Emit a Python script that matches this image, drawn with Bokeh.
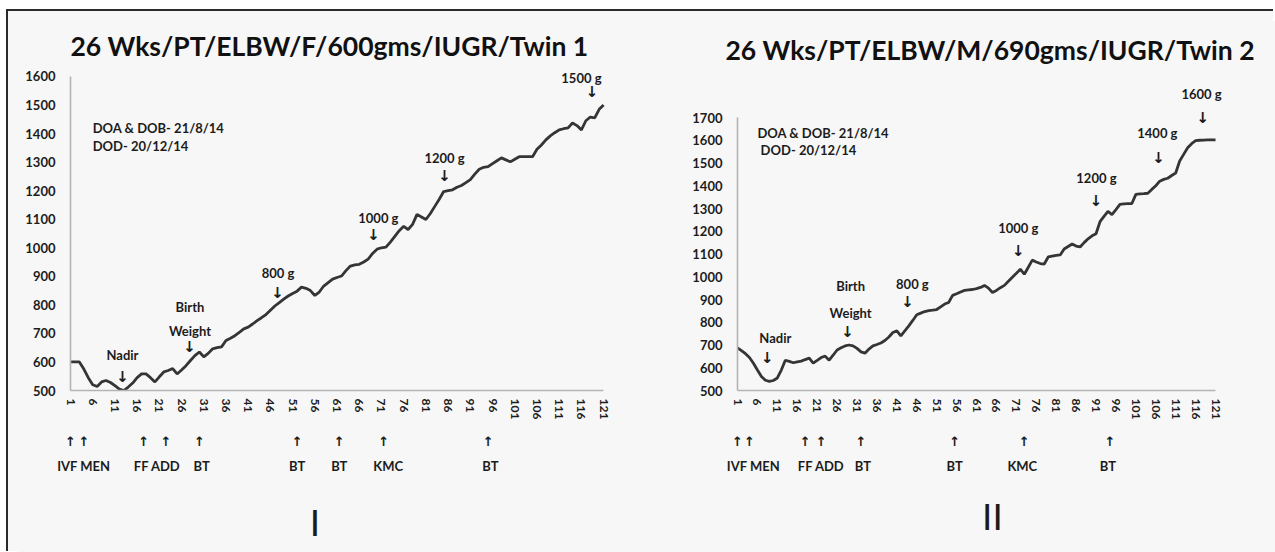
from bokeh.plotting import figure
from bokeh.models import Label, FixedTicker, Range1d, LinearAxis
from bokeh.layouts import row
from bokeh.embed import file_html
from bokeh.resources import INLINE

# ---------------- data ----------------
days = list(range(1, 122))

twin1_weights = [
    600, 600, 600, 575, 545, 520, 514, 530, 535, 528,
    517, 505, 500, 512, 526, 545, 558, 558, 545, 530,
    548, 565, 570, 577, 558, 572, 587, 605, 622, 635,
    618, 630, 646, 650, 653, 675, 683, 692, 704, 716,
    722, 733, 745, 755, 766, 781, 796, 808, 820, 831,
    840, 848, 862, 858, 850, 833, 845, 866, 878, 890,
    896, 901, 920, 936, 940, 942, 950, 960, 980, 995,
    1000, 1002, 1020, 1040, 1060, 1075, 1064, 1082, 1117, 1108,
    1099, 1120, 1145, 1170, 1197, 1200, 1203, 1212, 1218, 1228,
    1239, 1258, 1275, 1282, 1284, 1295, 1305, 1315, 1308, 1301,
    1310, 1319, 1319, 1319, 1319, 1345, 1360, 1378, 1392, 1403,
    1413, 1417, 1420, 1437, 1428, 1413, 1445, 1458, 1455, 1485, 1500,
]

twin2_weights = [
    687, 675, 662, 645, 620, 590, 562, 545, 540, 544,
    555, 590, 633, 628, 622, 626, 629, 636, 642, 620,
    632, 645, 651, 633, 655, 678, 688, 696, 700, 696,
    685, 670, 664, 682, 696, 702, 709, 720, 735, 755,
    762, 740, 762, 784, 808, 833, 840, 847, 851, 853,
    856, 868, 880, 887, 918, 925, 933, 940, 942, 944,
    948, 953, 962, 950, 931, 940, 952, 962, 980, 998,
    1015, 1033, 1011, 1042, 1073, 1065, 1058, 1056, 1087, 1091,
    1094, 1096, 1122, 1133, 1144, 1135, 1131, 1150, 1167, 1180,
    1189, 1242, 1265, 1287, 1273, 1295, 1318, 1320, 1321, 1322,
    1362, 1364, 1365, 1367, 1384, 1400, 1420, 1428, 1433, 1445,
    1456, 1509, 1538, 1567, 1585, 1598, 1600, 1601, 1602, 1602, 1602,
]

x_tick_days = [1, 6, 11, 16, 21, 26, 31, 36, 41, 46, 51, 56, 61, 66, 71,
               76, 81, 86, 91, 96, 101, 106, 111, 116, 121]
twin1_y_ticks = [500, 600, 700, 800, 900, 1000, 1100, 1200, 1300, 1400, 1500, 1600]
twin2_y_ticks = [500, 600, 700, 800, 900, 1000, 1100, 1200, 1300, 1400, 1500, 1600, 1700]

twin1_title = "26 Wks/PT/ELBW/F/600gms/IUGR/Twin 1"
twin2_title = "26 Wks/PT/ELBW/M/690gms/IUGR/Twin 2"
dates_line1 = "DOA & DOB- 21/8/14"
dates_line2 = "DOD- 20/12/14"

# milestone labels along the curve: text and day
twin1_milestones = ["Nadir", "Birth\nWeight", "800 g", "1000 g", "1200 g", "1500 g"]
twin1_milestone_days = [12.7, 27.8, 47.6, 69.2, 85.2, 118.4]
twin2_milestones = ["Nadir", "Birth\nWeight", "800 g", "1000 g", "1200 g", "1400 g", "1600 g"]
twin2_milestone_days = [8.5, 28.6, 43.7, 71.5, 91.0, 106.7, 117.8]

# events under the day axis
twin1_event_days = [1, 4, 17.5, 22.5, 30, 52, 61.5, 71.5, 95]
twin1_event_texts = ["IVF MEN", "FF ADD", "BT", "BT", "BT", "KMC", "BT"]
twin1_event_text_days = [4, 20.5, 30.5, 52, 61.5, 72.5, 95.5]
twin2_event_days = [1, 4, 18, 22, 32, 55.5, 73, 94.5]
twin2_event_texts = ["IVF MEN", "FF ADD", "BT", "BT", "KMC", "BT"]
twin2_event_text_days = [5, 22, 32.5, 55.5, 72.5, 94]

panel_names = ["I", "II"]
panel_name_days = [56, 65]

FONT = "Lato"
BG = "#f7f7f7"
INK = "#1c1c1c"


def style_axis(ax):
    ax.major_tick_line_color = None
    ax.minor_tick_line_color = None
    ax.major_tick_out = 0
    ax.major_tick_in = 0
    ax.minor_tick_out = 0
    ax.minor_tick_in = 0
    ax.axis_label_standoff = 0
    ax.major_label_text_color = INK


def make_panel(width, left, right, yend, yticks, ybound, title):
    p = figure(width=width, height=540, output_backend="svg", toolbar_location=None,
               x_range=Range1d(1, 123), y_range=Range1d(500, yend),
               min_border_left=left, min_border_right=right,
               min_border_top=60, min_border_bottom=161,
               background_fill_color=BG, border_fill_color=BG,
               outline_line_color=None, title=title)
    p.xgrid.grid_line_color = None
    p.ygrid.grid_line_color = None
    p.title.text_font = FONT
    p.title.text_font_size = "26.5px"
    p.title.text_font_style = "bold"
    p.title.text_color = "#111111"
    p.title.align = "left"
    for ax in (p.xaxis[0], p.yaxis[0]):
        style_axis(ax)
        ax.axis_line_color = "#b4b4b4"
        ax.axis_line_width = 1.6
        ax.major_label_text_font = FONT
        ax.major_label_text_font_style = "bold"
    p.xaxis.ticker = FixedTicker(ticks=x_tick_days)
    p.xaxis.bounds = (1, 121)
    p.xaxis.major_label_orientation = "vertical"
    p.xaxis.major_label_text_font_size = "12px"
    p.xaxis.major_label_standoff = 8
    p.yaxis.ticker = FixedTicker(ticks=yticks)
    p.yaxis.bounds = (500, ybound)
    p.yaxis.major_label_text_font_size = "13px"
    p.yaxis.major_label_standoff = 15
    return p


def text_axis(p, ticks, texts, standoff, size, font=FONT, style="bold"):
    ax = LinearAxis(ticker=FixedTicker(ticks=ticks),
                    major_label_overrides={t: s for t, s in zip(ticks, texts)})
    style_axis(ax)
    ax.axis_line_color = None
    ax.major_label_standoff = standoff
    ax.major_label_text_font = font
    ax.major_label_text_font_size = size
    ax.major_label_text_font_style = style
    p.add_layout(ax, "below")


def add_text(p, x, y, text, size="13px", style="bold", align="center", font=FONT, lh=1.5):
    p.add_layout(Label(x=x, y=y, text=text, text_font=font, text_font_size=size,
                       text_font_style=style, text_color=INK, text_align=align,
                       text_baseline="middle", text_line_height=lh))


# ---------------- panel I ----------------
p1 = make_panel(640, 62, 36, 1617.5, twin1_y_ticks, 1600, twin1_title)
p1.title.offset = 0
p1.title.standoff = 19
p1.line(days, twin1_weights, line_width=2.8, line_color="#353535")

add_text(p1, 6, 1421, dates_line1, align="left")
add_text(p1, 6, 1358, dates_line2, align="left")

t1_label_pos = [(12.7, 623), (27.9, 752), (47.7, 910), (70.3, 1106), (85.2, 1316), (116.0, 1593)]
t1_arrow_pos = [546, 651, 840, 1043, 1253, 1544]
for txt, d, (lx, ly), ay in zip(twin1_milestones, twin1_milestone_days, t1_label_pos, t1_arrow_pos):
    add_text(p1, lx, ly, txt, lh=1.5)
    add_text(p1, d, ay, "\u2193", size="15px", font="DejaVu Sans")

text_axis(p1, twin1_event_days, ["\u2191"] * len(twin1_event_days), 11, "13px", font="DejaVu Sans")
text_axis(p1, twin1_event_text_days, twin1_event_texts, 6, "13px")
text_axis(p1, [panel_name_days[0]], [panel_names[0]], 22, "37px", style="normal")

# ---------------- panel II ----------------
p2 = make_panel(625, 89, 50, 1902.2, twin2_y_ticks, 1700, twin2_title)
p2.title.offset = -12
p2.title.standoff = 12
p2.line(days, twin2_weights, line_width=2.8, line_color="#353535")

add_text(p2, 6, 1634, dates_line1, align="left")
add_text(p2, 6.8, 1559, dates_line2, align="left")

t2_label_pos = [(10.5, 729), (29.4, 900), (44.9, 970), (71.5, 1216), (91.1, 1436), (106.4, 1630), (117.5, 1805)]
t2_arrow_pos = [645, 759, 887, 1115, 1335, 1524, 1700]
for txt, d, (lx, ly), ay in zip(twin2_milestones, twin2_milestone_days, t2_label_pos, t2_arrow_pos):
    add_text(p2, lx, ly, txt, lh=1.7)
    add_text(p2, d, ay, "\u2193", size="15px", font="DejaVu Sans")

text_axis(p2, twin2_event_days, ["\u2191"] * len(twin2_event_days), 11, "13px", font="DejaVu Sans")
text_axis(p2, twin2_event_text_days, twin2_event_texts, 6, "13px")
text_axis(p2, [panel_name_days[1]], [panel_names[1]], 16, "37px", style="normal")

layout = row(p1, p2, styles={"margin-left": "6px", "margin-top": "9px",
                             "border-top": "2px solid #2a2a2a",
                             "border-left": "2px solid #2a2a2a",
                             "background-color": BG,
                             "box-shadow": "12px 12px 0 0 " + BG})

open("out.html", "w").write(file_html(layout, INLINE))
